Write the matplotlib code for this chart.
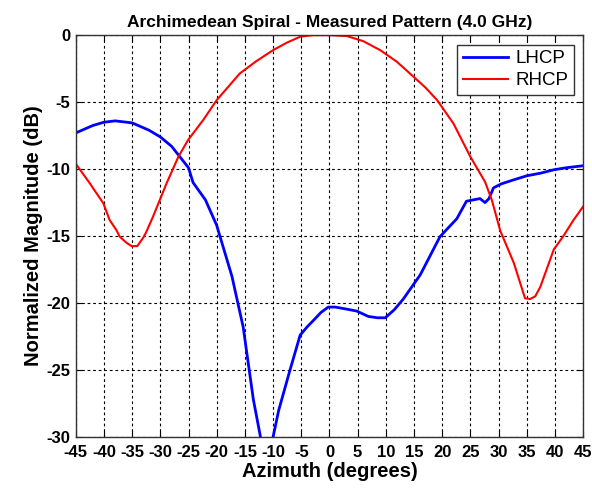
import numpy as np
import matplotlib.pyplot as plt

plt.rcParams['font.family'] = ['Liberation Sans', 'DejaVu Sans']

# LHCP trace (azimuth deg, normalized dB)
lhcp_az = [-45, -42, -40, -38, -35, -32, -30, -28, -26.5, -25, -24.2, -22, -20, -19.4,
           -17.3, -15.3, -13.5, -12.3, -11.8, -11, -10.3, -10, -9, -7, -5.2, -4, -2.85,
           -1.5, -0.2, 1, 3, 4.85, 6.9, 8.5, 9.9, 11.5, 13.1, 16.1, 19.6, 22.6, 24.3,
           26.7, 27.6, 28.3, 29.1, 30.5, 32.7, 35, 37.5, 39.8, 42, 45]
lhcp_db = [-7.3, -6.75, -6.5, -6.4, -6.55, -7.1, -7.6, -8.3, -9.1, -9.9, -11.0, -12.3,
           -14.2, -15.05, -18.0, -21.8, -27.2, -29.85, -31.5, -33, -31.5, -30.0, -28.0,
           -25.0, -22.4, -21.8, -21.3, -20.7, -20.3, -20.3, -20.45, -20.6, -21.0, -21.1,
           -21.1, -20.5, -19.7, -17.9, -15.05, -13.7, -12.4, -12.2, -12.5, -12.2, -11.4,
           -11.1, -10.8, -10.5, -10.3, -10.05, -9.9, -9.75]

# RHCP trace
rhcp_az = [-45, -42.5, -40.1, -39, -37.8, -37.2, -36, -35.1, -34.1, -33, -32.5, -31.3,
           -28.9, -26.8, -25.1, -22.4, -20, -15.9, -13, -10, -7.5, -5.2, -3, 0, 3.1,
           6, 9, 12, 14.9, 17, 19.1, 22, 25, 27.6, 28.8, 30.3, 31.5, 32.7, 34.7, 35.6,
           36.5, 37.4, 39.8, 41.5, 43.3, 45]
rhcp_db = [-9.6, -11.07, -12.56, -13.8, -14.55, -15.05, -15.5, -15.75, -15.75, -15.1,
           -14.7, -13.55, -11.07, -9.08, -7.84, -6.34, -4.85, -2.86, -1.95, -1.12, -0.55,
           -0.12, 0.0, 0.0, -0.07, -0.45, -1.12, -2.0, -3.1, -3.9, -4.85, -6.6, -9.08,
           -10.95, -12.3, -14.6, -15.8, -17.0, -19.65, -19.7, -19.5, -18.8, -16.0, -15.0,
           -13.8, -12.8]

xticks = list(range(-45, 50, 5))
yticks = list(range(-30, 5, 5))

fig = plt.figure(figsize=(5.92, 4.88), dpi=100)
ax = fig.add_axes([0.128, 0.1045, 0.857, 0.8235])

ax.plot(lhcp_az, lhcp_db, color='#0000ff', lw=2.0, label='LHCP')
ax.plot(rhcp_az, rhcp_db, color='#ff0000', lw=1.5, label='RHCP')

ax.set_xlim(-45, 45)
ax.set_ylim(-30, 0)
ax.set_xticks(xticks)
ax.set_yticks(yticks)
ax.set_xticklabels([str(t) for t in xticks], fontsize=12, fontweight='bold')
ax.set_yticklabels([str(t) for t in yticks], fontsize=12, fontweight='bold')
ax.tick_params(axis='x', pad=6)
ax.tick_params(axis='y', pad=4)
ax.tick_params(direction='in', top=True, right=True, length=4, width=0.8)
ax.grid(True, color='black', linestyle=(0, (2.5, 2.5)), linewidth=0.8)
for s in ax.spines.values():
    s.set_linewidth(1.0)
    s.set_color('#333333')

ax.set_title('Archimedean Spiral - Measured Pattern (4.0 GHz)', fontsize=12.5,
             fontweight='bold', pad=6)
ax.set_xlabel('Azimuth (degrees)', fontsize=14.5, fontweight='bold', labelpad=1)
ax.set_ylabel('Normalized Magnitude (dB)', fontsize=14.5, fontweight='bold', labelpad=2)

leg = ax.legend(loc='upper right', fontsize=13.5, fancybox=False, framealpha=1,
                edgecolor='#333333', handlelength=2.4, borderpad=0.3,
                labelspacing=0.25, borderaxespad=0.5, handletextpad=0.4)
leg.get_frame().set_linewidth(1.0)

fig.savefig('out.png', dpi=100)
